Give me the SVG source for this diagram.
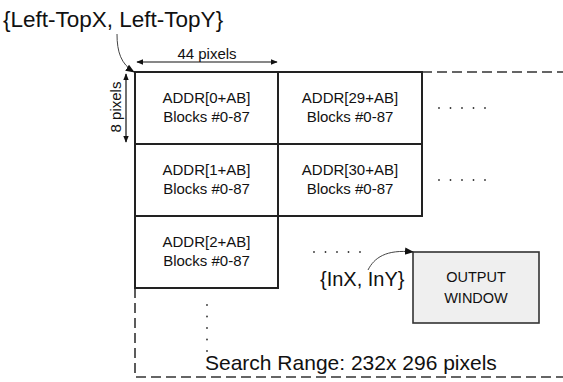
<svg xmlns="http://www.w3.org/2000/svg" width="563" height="382" viewBox="0 0 563 382">
<defs>
<marker id="ah" viewBox="0 0 10 10" refX="9" refY="5" markerWidth="7" markerHeight="7" orient="auto-start-reverse" markerUnits="userSpaceOnUse"><path d="M0,1 L10,5 L0,9 z" fill="#111"/></marker>
<marker id="ah2" viewBox="0 0 10 10" refX="9" refY="5" markerWidth="9" markerHeight="9" orient="auto" markerUnits="userSpaceOnUse"><path d="M0,1 L10,5 L0,9 z" fill="#111"/></marker>
</defs>
<style>
text{font-family:"Liberation Sans",Arial,sans-serif;fill:#111}
.cell{fill:#fff;stroke:#222;stroke-width:2}
.t{font-size:15px;text-anchor:middle}
.dash{fill:none;stroke:#333;stroke-width:1.6;stroke-dasharray:10 5}
.dots{stroke:#333;stroke-width:1.8;stroke-linecap:round;stroke-dasharray:0 11.5;fill:none}
.dim{stroke:#111;stroke-width:1.2;fill:none}
</style>
<rect width="563" height="382" fill="#fff"/>
<g id="search-range">
<path class="dash" d="M422,72 H563"/>
<path class="dash" d="M135,288 V377 H563"/>
<text x="205" y="370" style="font-size:21px">Search Range: 232x 296 pixels</text>
</g>
<g id="cell-0"><rect class="cell" x="135" y="72" width="143" height="72"/><text class="t" x="206.5" y="103">ADDR[0+AB]</text><text class="t" x="206.5" y="122">Blocks #0-87</text></g>
<g id="cell-29"><rect class="cell" x="278" y="72" width="144" height="72"/><text class="t" x="350" y="103">ADDR[29+AB]</text><text class="t" x="350" y="122">Blocks #0-87</text></g>
<g id="cell-1"><rect class="cell" x="135" y="144" width="143" height="72"/><text class="t" x="206.5" y="175">ADDR[1+AB]</text><text class="t" x="206.5" y="194">Blocks #0-87</text></g>
<g id="cell-30"><rect class="cell" x="278" y="144" width="144" height="72"/><text class="t" x="350" y="175">ADDR[30+AB]</text><text class="t" x="350" y="194">Blocks #0-87</text></g>
<g id="cell-2"><rect class="cell" x="135" y="216" width="143" height="72"/><text class="t" x="206.5" y="247">ADDR[2+AB]</text><text class="t" x="206.5" y="266">Blocks #0-87</text></g>
<g id="output-window"><rect x="413" y="252" width="126" height="71" fill="#efefef" stroke="#333" stroke-width="1.6"/><text x="476" y="282" style="font-size:14.5px;text-anchor:middle">OUTPUT</text><text x="476" y="303" style="font-size:14.5px;text-anchor:middle">WINDOW</text></g>
<g id="dot-rows">
<path class="dots" d="M439,108 H490"/>
<path class="dots" d="M439,180 H490"/>
<path class="dots" d="M314,252 H365"/>
<path class="dots" d="M207,305 V352"/>
</g>
<g id="labels">
<text x="3" y="27" style="font-size:22.5px">{Left-TopX, Left-TopY}</text>
<text x="207" y="59" style="font-size:15px;text-anchor:middle">44 pixels</text>
<text transform="translate(121,107) rotate(-90)" style="font-size:15px;text-anchor:middle">8 pixels</text>
<text x="320" y="286" style="font-size:20px">{InX, InY}</text>
</g>
<g id="connectors">
<path class="dim" d="M137,62 H277" marker-start="url(#ah)" marker-end="url(#ah)"/>
<path class="dim" d="M126,74 V142" marker-start="url(#ah)" marker-end="url(#ah)"/>
<path d="M117,34 C117,52 121,64 134,72" fill="none" stroke="#444" stroke-width="1" marker-end="url(#ah2)"/>
<path d="M368,270 C374,258 386,249 413,252" fill="none" stroke="#444" stroke-width="1" marker-end="url(#ah2)"/>
</g>
</svg>
